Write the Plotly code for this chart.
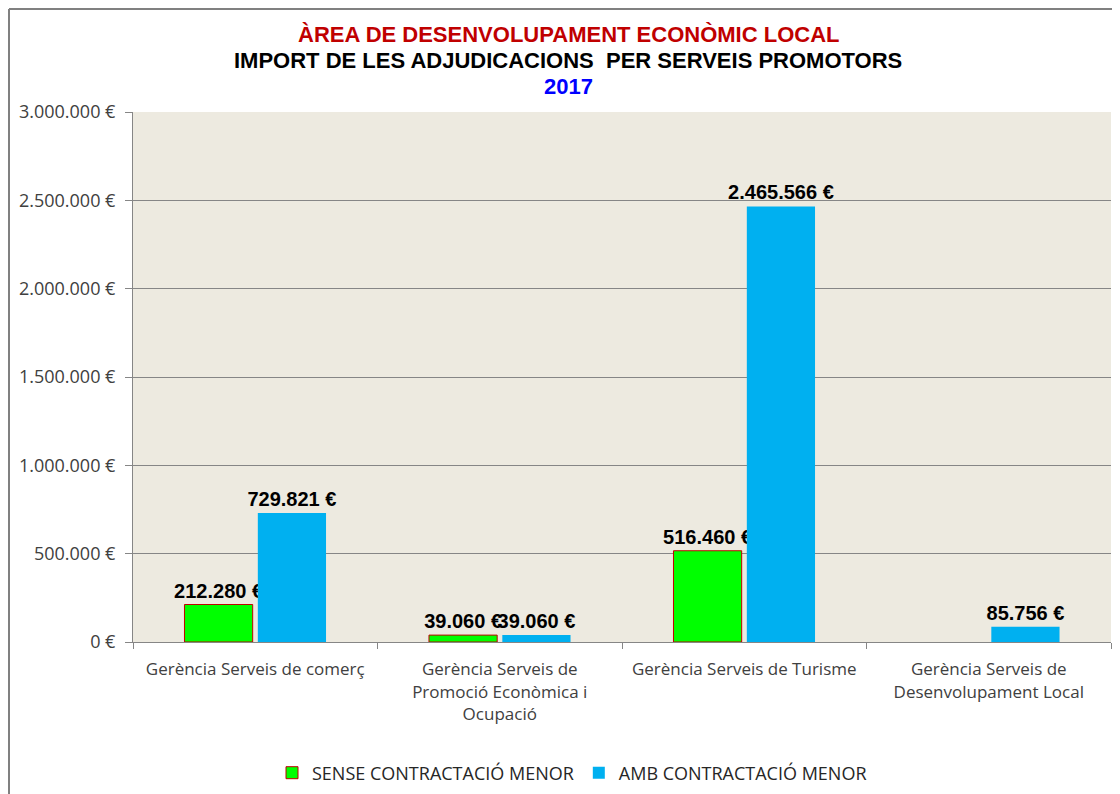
import plotly.graph_objects as go

categories = [
    "Gerència Serveis de comerç",
    "Gerència Serveis de<br>Promoció Econòmica i<br>Ocupació",
    "Gerència Serveis de Turisme",
    "Gerència Serveis de<br>Desenvolupament Local",
]
series_names = ["SENSE CONTRACTACIÓ MENOR", "AMB CONTRACTACIÓ MENOR"]
sense_values = [212280, 39060, 516460, 0]
amb_values = [729821, 39060, 2465566, 85756]
y_ticks = [0, 500000, 1000000, 1500000, 2000000, 2500000, 3000000]


def eur(v):
    return f"{v:,.0f}".replace(",", ".") + " €"


def labels(vals):
    return [eur(v) if v > 0 else "" for v in vals]


# page is rendered with an 8px body margin, so figure coords = page px - 8
OFF = 8
W, H = 1120, 794
plot_left, plot_right, plot_top, plot_bottom = 133, 1111, 112, 642  # page px
L = plot_left - OFF
T = plot_top - OFF
R = W - (plot_right - OFF)
B = H - (plot_bottom - OFF)
pw = W - L - R
ph = H - T - B


def px_x(x):
    return (x - plot_left) / pw


def px_y(y):
    return (plot_bottom - y) / ph


label_font = dict(family="Liberation Sans, Arial", size=20, color="#000000", weight="bold")
axis_font = "Open Sans, Noto Sans"

fig = go.Figure()
fig.add_trace(go.Bar(
    x=categories, y=sense_values, name=series_names[0],
    marker=dict(color="#00FF00",
                line=dict(color="#C00000", width=[1 if v > 0 else 0 for v in sense_values])),
    text=labels(sense_values), textposition="outside", textfont=label_font,
    cliponaxis=False, constraintext="none",
))
fig.add_trace(go.Bar(
    x=categories, y=amb_values, name=series_names[1],
    marker=dict(color="#00B0F0", line=dict(color="#00B0F0", width=0)),
    text=labels(amb_values), textposition="outside", textfont=label_font,
    cliponaxis=False, constraintext="none",
))

title_font = "Liberation Sans, Arial"
annos = [
    ("ÀREA DE DESENVOLUPAMENT ECONÒMIC LOCAL", "#C00000", 35),
    ("IMPORT DE LES ADJUDICACIONS  PER SERVEIS PROMOTORS", "#000000", 61),
    ("2017", "#0000FF", 87),
]
for txt, col, ypx in annos:
    fig.add_annotation(
        text=f"<b>{txt}</b>", x=px_x(568), y=px_y(ypx), xref="paper", yref="paper",
        showarrow=False, xanchor="center", yanchor="middle",
        font=dict(family=title_font, size=22, color=col),
    )

fig.add_shape(type="line", xref="paper", yref="paper",
              x0=px_x(9), x1=px_x(9), y0=px_y(9), y1=px_y(810),
              line=dict(color="#808080", width=2))
fig.add_shape(type="line", xref="paper", yref="paper",
              x0=px_x(9), x1=px_x(1130), y0=px_y(9), y1=px_y(9),
              line=dict(color="#808080", width=2))

fig.update_layout(
    width=W, height=H,
    margin=dict(l=L, r=R, t=T, b=B, autoexpand=False),
    paper_bgcolor="#FFFFFF",
    plot_bgcolor="#EDEAE0",
    barmode="group",
    bargap=0.4,
    bargroupgap=0.07,
    showlegend=True,
    legend=dict(
        orientation="h", x=px_x(572), xanchor="center", y=px_y(773), yanchor="middle",
        font=dict(family=axis_font, size=18, color="#262626"),
        itemwidth=30, traceorder="normal",
    ),
    font=dict(family=axis_font, size=17, color="#404040"),
)
fig.update_xaxes(
    tickson="boundaries", ticks="outside", ticklen=6, tickcolor="#868686",
    showline=True, linecolor="#868686", linewidth=1,
    tickfont=dict(family=axis_font, size=17, color="#404040"),
    tickangle=0,
    showgrid=False, automargin=False, ticklabelstandoff=12,
)
fig.update_yaxes(
    range=[0, 3000000], tickvals=y_ticks, ticktext=[eur(v) for v in y_ticks],
    ticks="outside", ticklen=7, tickcolor="#868686",
    showline=True, linecolor="#868686", linewidth=1,
    showgrid=True, gridcolor="#868686", gridwidth=1,
    tickfont=dict(family=axis_font, size=18, color="#404040"),
    ticklabelstandoff=6, zeroline=False, automargin=False,
)

fig.write_html("out.html")
